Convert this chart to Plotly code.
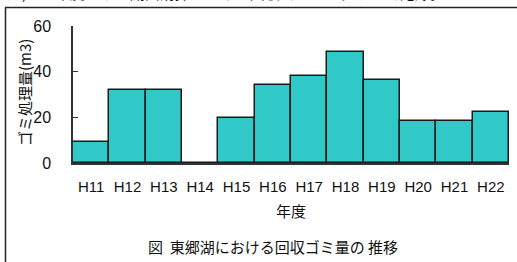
import plotly.graph_objects as go

years = ["H11", "H12", "H13", "H14", "H15", "H16", "H17", "H18", "H19", "H20", "H21", "H22"]
amounts = [9, 32, 32, 0, 19.5, 34.2, 38, 48.5, 36.4, 18.4, 18.4, 22.2]
y_ticks = [0, 20, 40, 60]

W, H = 517, 262
L, R, T, B = 73, 8, 26, 99
ph = H - T - B
pw = W - L - R

def py(ypx):
    return (H - B - ypx) / ph

def px(xpx):
    return (xpx - L) / pw

FONT = "Liberation Sans, Noto Sans CJK JP, sans-serif"
JP = "Noto Sans CJK JP"

fig = go.Figure(go.Bar(
    x=years, y=amounts,
    marker=dict(color="#31C8C8", line=dict(color="#1a1a1a", width=1.5)),
))

def ann(text, x, y, **kw):
    d = dict(text=text, x=px(x), y=py(y), xref="paper", yref="paper",
             xanchor="center", yanchor="middle", showarrow=False,
             font=dict(size=15, family=JP, color="#111"))
    d.update(kw)
    return d

fig.update_layout(
    width=W, height=H,
    margin=dict(l=L, r=R, t=T, b=B, autoexpand=False),
    paper_bgcolor="white", plot_bgcolor="white",
    bargap=0, showlegend=False,
    font=dict(family=FONT, size=15, color="#111"),
    xaxis=dict(type="category", range=[-0.5, 11.5], showline=True, linecolor="#333",
               linewidth=1.5, ticks="", showgrid=False, tickfont=dict(size=15),
               ticklabelstandoff=9),
    yaxis=dict(range=[0, 60], tickvals=y_ticks, showline=True, linecolor="#333",
               linewidth=1.5, ticks="inside", ticklen=5, tickcolor="#333", showgrid=False,
               zeroline=False, tickfont=dict(size=16), ticklabelstandoff=17),
    annotations=[
        ann("ゴミ処理量(m3)", 24, 93, textangle=-90),
        ann("年度", 291, 210),
        ann("図  東郷湖における回収ゴミ量の 推移", 273, 246),
        ann("注)H11年度から、湖面清掃における回収ゴミ量はグラフで記録。", 5, -8, xanchor="left"),
    ],
    shapes=[
        dict(type="line", xref="paper", yref="paper", x0=px(5.5), x1=px(5.5), y0=py(7.5), y1=py(270),
             line=dict(color="#222", width=1.5)),
        dict(type="line", xref="paper", yref="paper", x0=px(5), x1=px(530), y0=py(7.5), y1=py(7.5),
             line=dict(color="#222", width=1.5)),
    ],
)

fig.write_html("out.html", config={"displayModeBar": False},
               post_script="document.body.style.margin='0';")
